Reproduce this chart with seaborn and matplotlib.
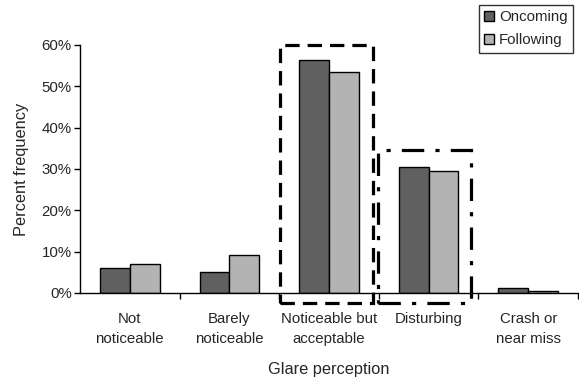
import matplotlib
matplotlib.use("Agg")
import matplotlib.pyplot as plt
import seaborn as sns
import pandas as pd
from matplotlib.patches import Rectangle
from matplotlib.ticker import PercentFormatter

categories = ["Not\nnoticeable", "Barely\nnoticeable", "Noticeable but\nacceptable", "Disturbing", "Crash or\nnear miss"]
oncoming = [6.0, 5.2, 56.3, 30.5, 1.3]
following = [6.9, 9.1, 53.4, 29.6, 0.6]
series = ["Oncoming", "Following"]
yticks = [0, 10, 20, 30, 40, 50, 60]

df = pd.DataFrame({
    "cat": categories * 2,
    "val": oncoming + following,
    "series": [series[0]] * len(categories) + [series[1]] * len(categories),
})

sns.set_style("white")
plt.rcParams["font.family"] = ["Liberation Sans", "DejaVu Sans"]

fig = plt.figure(figsize=(5.79, 3.78), dpi=100)
ax = fig.add_axes([80/579, 1-293/378, 498/579, 248/378])

sns.barplot(data=df, x="cat", y="val", hue="series", order=categories, hue_order=series,
            palette=["#606060", "#b3b3b3"], edgecolor="black", linewidth=1,
            width=0.6, ax=ax, saturation=1)

ax.set_xlim(-0.5, 4.5)
ax.set_ylim(0, 60)
ax.set_yticks(yticks)
ax.yaxis.set_major_formatter(PercentFormatter(decimals=0))
ax.tick_params(axis="y", which="major", left=True, length=4, width=1, color="black", labelsize=10.8, pad=2)
ax.tick_params(axis="x", which="major", bottom=False, labelsize=10.8, pad=10)
for t in ax.get_xticklabels():
    t.set_linespacing(1.55)
ax.set_xticks([0.5, 1.5, 2.5, 3.5, 4.5], minor=True)
ax.tick_params(axis="x", which="minor", bottom=True, length=4, width=1, color="black")

for s in ["top", "right"]:
    ax.spines[s].set_visible(False)
for s in ["left", "bottom"]:
    ax.spines[s].set_color("black")
    ax.spines[s].set_linewidth(1)

ax.set_ylabel("Percent frequency", fontsize=11.8, labelpad=9)
ax.set_xlabel("Glare perception", fontsize=11.8, labelpad=12)

# highlight boxes
ax.add_patch(Rectangle((1.51, -2.4), 0.93, 62.4, fill=False, edgecolor="black",
                       linestyle=(0, (4.5, 2.5)), linewidth=2.3, clip_on=False))
ax.add_patch(Rectangle((2.49, -2.4), 0.94, 37.0, fill=False, edgecolor="black",
                       linestyle=(0, (7, 3.5, 1.3, 3.5)), linewidth=2.3, clip_on=False))

leg = ax.legend(loc="upper right", bbox_to_anchor=(573/579, 1-5/378), bbox_transform=fig.transFigure,
                frameon=True, fancybox=False, fontsize=10.8, handlelength=0.65, handleheight=0.65,
                handletextpad=0.35, borderpad=0.35, labelspacing=0.6, borderaxespad=0)
leg.get_frame().set_edgecolor("black")
leg.get_frame().set_linewidth(1)
leg.set_title(None)

fig.savefig("out.png", dpi=100)
